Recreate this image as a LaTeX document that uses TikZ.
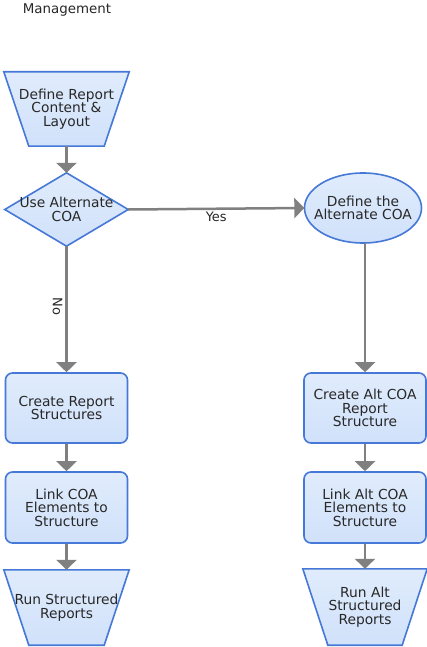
\documentclass[tikz,border=0pt]{standalone}
\usepackage{fontspec}
\setmainfont{DejaVu Sans}
\usetikzlibrary{arrows.meta,backgrounds}
\definecolor{bord}{RGB}{70,120,215}
\definecolor{ftop}{RGB}{224,236,252}
\definecolor{fmid}{RGB}{240,246,255}
\definecolor{fbot}{RGB}{208,225,250}
\definecolor{arr}{RGB}{128,128,128}
\definecolor{ink}{RGB}{40,40,40}
\tikzset{
  txt/.style={align=center, text=ink, font=\fontsize{13.8}{13.4}\selectfont, inner sep=0pt},
  hold/.style={txt, minimum width=#1, minimum height=73pt},
  procbox/.style={txt, draw=bord, line width=1.6pt, rounded corners=7pt,
    top color=ftop, middle color=fmid, bottom color=fbot, minimum width=122pt, minimum height=70pt},
  outline/.style={draw=bord, line width=1.6pt, top color=ftop, middle color=fmid, bottom color=fbot},
  flow/.style={draw=arr, line width=2.5pt, -{Triangle[width=20pt,length=10pt]}},
  lbl/.style={text=ink, font=\fontsize{13}{14}\selectfont, inner sep=0pt}
}
\begin{document}
\begin{tikzpicture}[x=1pt,y=-1pt]
\useasboundingbox (0,0) rectangle (427,647);
\node[lbl, font=\fontsize{13.4}{15}\selectfont] (title) at (67,10) {Management};
% left column
\node[hold=125pt, minimum height=74pt] (d1) at (66.5,109) {Define Report\\Content \&\\Layout};
\node[hold=123pt] (dia) at (66.5,209.5) {Use Alternate\\COA};
\node[procbox] (b1) at (66.5,408) {Create Report\\Structures};
\node[procbox, minimum height=71pt] (b2) at (66.5,507.5) {Link COA\\Elements to\\Structure};
\node[hold=125pt, minimum height=75pt] (r1) at (66.5,607.5) {Run Structured\\Reports};
% right column
\node[hold=117pt, minimum height=70pt] (ell) at (363,208) {Define the\\Alternate COA};
\node[procbox] (c1) at (365,408) {Create Alt COA\\Report\\Structure};
\node[procbox, minimum height=71pt] (c2) at (365,507.5) {Link Alt COA\\Elements to\\Structure};
\node[hold=124pt, minimum height=76pt] (r2) at (365,607) {Run Alt\\Structured\\Reports};
\begin{scope}[on background layer]
  \fill[white] (0,0) rectangle (427,647);
  \path[outline] (d1.north west) -- (d1.north east) -- ([xshift=-25pt]d1.south east) -- ([xshift=25pt]d1.south west) -- cycle;
  \path[outline] (dia.north) -- (dia.east) -- (dia.south) -- (dia.west) -- cycle;
  \path[outline] (ell.center) ellipse [x radius=58.5pt, y radius=35pt];
  \path[outline] (r1.north west) -- (r1.north east) -- ([xshift=-25pt]r1.south east) -- ([xshift=25pt]r1.south west) -- cycle;
  \path[outline] (r2.north west) -- (r2.north east) -- ([xshift=-25pt]r2.south east) -- ([xshift=25pt]r2.south west) -- cycle;
\end{scope}
% connectors
\draw[flow] (d1.south) -- (dia.north);
\draw[flow] (dia.east) -- node[lbl, pos=0.5, yshift=-8pt] (yes) {Yes} (ell.west);
\draw[flow] (dia.south) -- node[lbl, pos=0.48, xshift=-9pt, rotate=-90] (no) {No} (b1.north);
\draw[flow] (b1.south) -- (b2.north);
\draw[flow] (b2.south) -- (r1.north);
\draw[flow] (ell.south -| c1.north) -- (c1.north);
\draw[flow] (c1.south) -- (c2.north);
\draw[flow] (c2.south) -- (r2.north);
\end{tikzpicture}
\end{document}
